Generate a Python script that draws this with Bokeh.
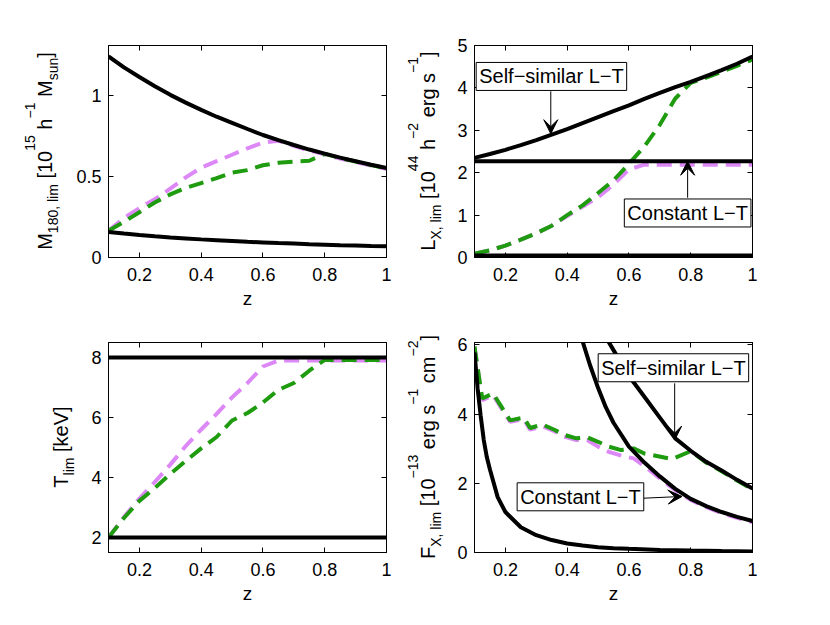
from bokeh.plotting import figure
from bokeh.models import Range1d, FixedTicker, LinearAxis, Label, Arrow, VeeHead, Div
from bokeh.layouts import column, row
from bokeh.embed import file_html
from bokeh.resources import INLINE

FONT = "Liberation Sans"
MAGENTA = "#DD88F7"
GREEN = "#1E9B0F"

# ---------------- data ----------------
z05 = [0.10, 0.15, 0.20, 0.25, 0.30, 0.35, 0.40, 0.45, 0.50, 0.55,
       0.60, 0.65, 0.70, 0.75, 0.80, 0.85, 0.90, 0.95, 1.00]
z_ends = [0.1, 1.0]

# Panel 1: M180,lim
m_upper = [1.243, 1.175, 1.115, 1.058, 1.005, 0.957, 0.912, 0.870, 0.832, 0.794,
           0.757, 0.725, 0.695, 0.667, 0.642, 0.617, 0.595, 0.573, 0.553]
m_lower = [0.158, 0.148, 0.139, 0.131, 0.124, 0.118, 0.112, 0.107, 0.102, 0.097,
           0.093, 0.089, 0.086, 0.082, 0.079, 0.076, 0.074, 0.071, 0.069]
m_magenta = [0.165, 0.245, 0.305, 0.36, 0.425, 0.495, 0.555, 0.595, 0.635, 0.675,
             0.71, 0.722, 0.69, 0.662, 0.637, 0.612, 0.59, 0.568, 0.548]
m_green = [0.165, 0.22, 0.28, 0.34, 0.39, 0.43, 0.46, 0.49, 0.525, 0.54,
           0.57, 0.585, 0.593, 0.598, 0.64, 0.615, 0.593, 0.571, 0.551]

# Panel 2: LX,lim
l_selfsim = [2.35, 2.44, 2.54, 2.65, 2.77, 2.90, 3.03, 3.17, 3.31, 3.45,
             3.59, 3.74, 3.88, 4.02, 4.14, 4.28, 4.42, 4.57, 4.74]
l_const = [2.27, 2.27]
l_low = [0.05, 0.05]
l_green = [0.09, 0.17, 0.28, 0.42, 0.57, 0.75, 1.0, 1.23, 1.52, 1.82,
           2.21, 2.62, 3.13, 3.75, 4.12, 4.24, 4.38, 4.52, 4.67]
l_magenta = [0.09, 0.17, 0.28, 0.42, 0.57, 0.75, 0.98, 1.2, 1.42, 1.72,
             2.08, 2.19, 2.19, 2.19, 2.19, 2.19, 2.19, 2.19, 2.19]

# Panel 3: Tlim
t_high = [8.0, 8.0]
t_low = [2.0, 2.0]
t_magenta = [2.0, 2.68, 3.30, 3.85, 4.43, 5.05, 5.60, 6.12, 6.67, 7.15,
             7.70, 7.90, 7.90, 7.90, 7.90, 7.90, 7.90, 7.90, 7.90]
t_green = [2.0, 2.65, 3.22, 3.65, 4.12, 4.55, 4.97, 5.35, 5.90, 6.15,
           6.50, 6.92, 7.15, 7.56, 7.92, 7.92, 7.92, 7.92, 7.92]

# Panel 4: FX,lim
z_flow = [0.10, 0.11, 0.12, 0.13, 0.14, 0.15, 0.175, 0.20, 0.25, 0.30,
          0.35, 0.40, 0.45, 0.50, 0.55, 0.60, 0.70, 0.80, 0.90, 1.00]
f_low = [5.78, 4.75, 3.95, 3.25, 2.75, 2.40, 1.60, 1.17, 0.73, 0.50,
         0.36, 0.26, 0.20, 0.155, 0.125, 0.105, 0.075, 0.055, 0.04, 0.03]
z_fconst = [0.44, 0.45, 0.475, 0.50, 0.525, 0.55, 0.60, 0.65, 0.70, 0.75,
            0.80, 0.85, 0.90, 0.95, 1.00]
f_const = [6.4, 6.1, 5.39, 4.76, 4.2, 3.75, 3.06, 2.6, 2.2, 1.84,
           1.55, 1.34, 1.17, 1.03, 0.91]
z_fss = [0.52, 0.55, 0.60, 0.65, 0.70, 0.75, 0.80, 0.85, 0.90, 0.95, 1.00]
f_selfsim = [6.3, 5.85, 5.1, 4.5, 3.9, 3.3, 2.94, 2.62, 2.37, 2.1, 1.85]
z_fgreen = [0.10, 0.125, 0.16, 0.215, 0.26, 0.28, 0.32, 0.36, 0.39, 0.43, 0.465,
            0.50, 0.535, 0.575, 0.615, 0.65, 0.74, 0.80, 0.85, 0.90, 0.95, 1.00]
f_green = [5.95, 4.45, 4.6, 3.82, 3.9, 3.6, 3.7, 3.54, 3.4, 3.3, 3.33,
           3.2, 3.06, 2.96, 3.01, 2.86, 2.7, 2.93, 2.6, 2.35, 2.08, 1.83]
z_fmag = [0.10, 0.125, 0.16, 0.215, 0.26, 0.28, 0.32, 0.36, 0.39, 0.43, 0.465,
          0.50, 0.535, 0.575, 0.615, 0.65, 0.70, 0.75, 0.80, 0.85, 0.90, 0.95, 1.00]
f_magenta = [5.95, 4.4, 4.55, 3.78, 3.85, 3.55, 3.65, 3.5, 3.35, 3.25, 3.25,
             3.06, 2.91, 2.8, 2.72, 2.5, 2.14, 1.8, 1.52, 1.31, 1.14, 1.0, 0.88]

x_ticks = [0.2, 0.4, 0.6, 0.8, 1.0]
x_tick_labels = ["0.2", "0.4", "0.6", "0.8", "1"]

# y-axis label texts (main text, with sub/superscript parts)
ylab1 = [("M", "n"), ("180, lim", "sub"), (" [10", "n"), ("15", "sup"),
         (" h", "n"), ("\u22121", "sup"), (" M", "n"), ("sun", "sub"), ("]", "n")]
ylab2 = [("L", "n"), ("X, lim", "sub"), (" [10", "n"), ("44", "sup"),
         (" h", "n"), ("\u22122", "sup"), (" erg s", "n"), ("\u22121", "sup"), ("]", "n")]
ylab3 = [("T", "n"), ("lim", "sub"), (" [keV]", "n")]
ylab4 = [("F", "n"), ("X, lim", "sub"), (" [10", "n"), ("\u221213", "sup"),
         (" erg s", "n"), ("\u22121", "sup"), (" cm", "n"), ("\u22122", "sup"), ("]", "n")]

# ---------------- helpers ----------------
FRAME_W = 278
TOP_H, BOT_H = 212, 210
TOP_B = (45, 62)   # (top border, bottom border) for upper row
BOT_B = (23, 55)   # for lower row


def make_panel(y_lo, y_hi, frame_h, yticks, ylabels, left, right, top, bottom):
    p = figure(frame_width=FRAME_W, frame_height=frame_h,
               x_range=Range1d(0.1, 1.0), y_range=Range1d(y_lo, y_hi),
               min_border_left=left, min_border_right=right, min_border_top=top,
               min_border_bottom=bottom, toolbar_location=None, output_backend="svg",
               background_fill_color="white", border_fill_color="white")
    p.xgrid.visible = False
    p.ygrid.visible = False
    p.outline_line_color = "black"
    p.outline_line_width = 1
    xa = p.xaxis[0]
    ya = p.yaxis[0]
    xa.ticker = FixedTicker(ticks=x_ticks)
    xa.major_label_overrides = dict(zip(x_ticks, x_tick_labels))
    ya.ticker = FixedTicker(ticks=yticks)
    ya.major_label_overrides = dict(zip(yticks, ylabels))
    for ax in (xa, ya):
        ax.axis_line_color = "black"
        ax.major_tick_line_color = "black"
        ax.major_tick_in = 5
        ax.major_tick_out = 0
        ax.minor_tick_line_color = None
        ax.major_label_text_font = FONT
        ax.major_label_text_font_size = "18px"
        ax.major_label_text_color = "black"
    xa.major_label_standoff = 10
    ya.major_label_standoff = 7
    xa.axis_label = "z"
    xa.axis_label_text_font = FONT
    xa.axis_label_text_font_size = "19px"
    xa.axis_label_text_font_style = "normal"
    xa.axis_label_text_color = "black"
    xa.axis_label_standoff = 4
    top_ax = LinearAxis(ticker=FixedTicker(ticks=x_ticks),
                        major_label_overrides={k: "" for k in x_ticks})
    right_ax = LinearAxis(ticker=FixedTicker(ticks=yticks),
                          major_label_overrides={k: "" for k in yticks})
    for ax in (top_ax, right_ax):
        ax.major_tick_in = 5
        ax.major_tick_out = 0
        ax.minor_tick_line_color = None
        ax.major_label_text_font_size = "0px"
        ax.major_label_standoff = 0
        ax.axis_line_color = "black"
    p.add_layout(top_ax, "above")
    p.add_layout(right_ax, "right")
    return p


def ylabel_div(parts, width, height, baseline_x, center_y, main=20, small=14,
               sup=17, sub=6):
    html_parts = []
    for text, kind in parts:
        t = text.replace(" ", "&nbsp;")
        if kind == "n":
            html_parts.append(t)
        else:
            shift = -sup if kind == "sup" else sub
            html_parts.append(
                f'<span style="position:relative;top:{shift}px;font-size:{small}px;'
                f'line-height:0">{t}</span>')
    inner = "".join(html_parts)
    # line box centre lies ~0.346 em above the baseline for this font
    cx = baseline_x - 0.3465 * main
    html = (f'<div style="position:relative;width:{width}px;height:{height}px;'
            f'overflow:visible">'
            f'<div style="position:absolute;left:{cx:.1f}px;top:{center_y:.1f}px;'
            f'transform:translate(-50%,-50%) rotate(-90deg);white-space:nowrap;'
            f"font-family:'{FONT}';font-size:{main}px;line-height:{main}px;"
            f'color:black">{inner}</div></div>')
    return Div(text=html, width=width, height=height, margin=0)


def add_box(p, x, y, text):
    p.add_layout(Label(x=x, y=y, text=text, text_align="center", text_baseline="middle",
                       text_font=FONT, text_font_size="20px", text_color="black",
                       background_fill_color="white", border_line_color="black",
                       border_line_width=1, padding=3))


def add_arrow(p, x0, y0, x1, y1):
    p.add_layout(Arrow(end=VeeHead(size=14, fill_color="black", line_color="black",
                                   line_width=1),
                       x_start=x0, y_start=y0, x_end=x1, y_end=y1,
                       line_color="black", line_width=1))


DASH = "15 8"
LW = 4
ROW1_H = TOP_B[0] + TOP_H + TOP_B[1]
ROW2_H = BOT_B[0] + BOT_H + BOT_B[1]

# ---------------- panel 1 ----------------
p1 = make_panel(0, 1.31, TOP_H, [0, 0.5, 1.0], ["0", "0.5", "1"], 40, 20, *TOP_B)
p1.line(z05, m_magenta, line_color=MAGENTA, line_width=LW, line_dash=DASH)
p1.line(z05, m_green, line_color=GREEN, line_width=LW, line_dash=DASH)
p1.line(z05, m_upper, line_color="black", line_width=LW)
p1.line(z05, m_lower, line_color="black", line_width=LW)
lab1 = ylabel_div(ylab1, 68, ROW1_H, 52, TOP_B[0] + TOP_H / 2)

# ---------------- panel 2 ----------------
p2 = make_panel(0, 5, TOP_H, [0, 1, 2, 3, 4, 5], ["0", "1", "2", "3", "4", "5"], 24, 40, *TOP_B)
p2.line(z05, l_magenta, line_color=MAGENTA, line_width=LW, line_dash=DASH)
p2.line(z05, l_green, line_color=GREEN, line_width=LW, line_dash=DASH)
p2.line(z05, l_selfsim, line_color="black", line_width=LW)
p2.line(z_ends, l_const, line_color="black", line_width=LW)
p2.line(z_ends, l_low, line_color="black", line_width=LW)
add_arrow(p2, 0.347, 3.92, 0.347, 2.92)
add_arrow(p2, 0.79, 1.41, 0.79, 2.27)
add_box(p2, 0.349, 4.27, "Self\u2212similar L\u2212T")
add_box(p2, 0.79, 1.05, "Constant L\u2212T")
lab2 = ylabel_div(ylab2, 44, ROW1_H, 29, TOP_B[0] + TOP_H / 2)

# ---------------- panel 3 ----------------
p3 = make_panel(1.5, 8.5, BOT_H, [2, 4, 6, 8], ["2", "4", "6", "8"], 22, 20, *BOT_B)
p3.line(z05, t_magenta, line_color=MAGENTA, line_width=LW, line_dash=DASH)
p3.line(z05, t_green, line_color=GREEN, line_width=LW, line_dash=DASH)
p3.line(z_ends, t_high, line_color="black", line_width=LW)
p3.line(z_ends, t_low, line_color="black", line_width=LW)
lab3 = ylabel_div(ylab3, 86, ROW2_H, 68, BOT_B[0] + BOT_H / 2)

# ---------------- panel 4 ----------------
p4 = make_panel(0, 6.07, BOT_H, [0, 2, 4, 6], ["0", "2", "4", "6"], 24, 40, *BOT_B)
p4.line(z_fmag, f_magenta, line_color=MAGENTA, line_width=LW, line_dash=DASH)
p4.line(z_fgreen, f_green, line_color=GREEN, line_width=LW, line_dash=DASH)
p4.line(z_flow, f_low, line_color="black", line_width=LW)
p4.line(z_fconst, f_const, line_color="black", line_width=LW)
p4.line(z_fss, f_selfsim, line_color="black", line_width=LW)
add_arrow(p4, 0.748, 4.89, 0.748, 3.25)
add_arrow(p4, 0.648, 1.57, 0.772, 1.62)
add_box(p4, 0.744, 5.34, "Self\u2212similar L\u2212T")
add_box(p4, 0.443, 1.61, "Constant L\u2212T")
lab4 = ylabel_div(ylab4, 44, ROW2_H, 29, BOT_B[0] + BOT_H / 2)

layout = column(row(lab1, p1, lab2, p2), row(lab3, p3, lab4, p4))
open("out.html", "w").write(file_html(layout, INLINE))
